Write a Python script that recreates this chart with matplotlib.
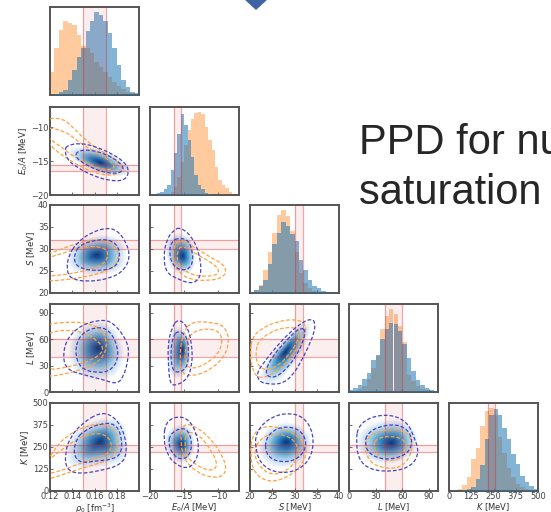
import numpy as np
import matplotlib.pyplot as plt
from matplotlib.patches import PathPatch, Polygon
from matplotlib.path import Path

# ---- parameters -------------------------------------------------------
labels = [r'$\rho_0$ [fm$^{-3}$]', r'$E_0/A$ [MeV]', r'$S$ [MeV]',
          r'$L$ [MeV]', r'$K$ [MeV]']
limits = [(0.12, 0.20), (-20, -7), (20, 40), (0, 100), (0, 500)]
ticks = [[0.12, 0.14, 0.16, 0.18], [-20, -15, -10], [20, 25, 30, 35, 40],
         [0, 30, 60, 90], [0, 125, 250, 375, 500]]
# empirical ranges (red bands)
bands = [(0.15, 0.17), (-16.5, -15.5), (30, 32), (40, 60), (220, 260)]

# histogram bins: first edge, bin width, number of bins
hist_bins = [(0.12, 0.004, 20), (-20, 0.5, 26), (20, 1, 20), (0, 5, 20), (0, 25, 20)]

# 1D marginals (bin heights), prior = orange, posterior = blue
prior_hist = [
    [70, 140, 195, 220, 215, 210, 180, 145, 140, 125, 100, 85, 70, 55, 40, 28, 18, 10, 5, 2],
    [0, 0, 0, 0, 0, 2, 8, 25, 55, 100, 150, 195, 230, 247, 250, 243, 205, 165, 135, 85, 45, 30, 20, 10, 3, 0],
    [3, 10, 25, 70, 125, 185, 240, 255, 235, 190, 125, 60, 30, 15, 6, 2, 0, 0, 0, 0],
    [0, 3, 8, 20, 40, 75, 110, 195, 235, 257, 240, 205, 155, 53, 33, 18, 10, 5, 2, 0],
    [0, 2, 7, 17, 42, 97, 132, 197, 242, 252, 232, 165, 115, 70, 42, 22, 12, 5, 2, 0],
]
post_hist = [
    [0, 3, 8, 15, 45, 75, 115, 140, 190, 220, 248, 240, 220, 185, 140, 90, 45, 23, 10, 5],
    [0, 0, 5, 10, 17, 30, 75, 125, 185, 243, 210, 165, 115, 60, 30, 17, 7, 3, 1, 0, 0, 0, 0, 0, 0, 0],
    [2, 8, 20, 40, 90, 150, 185, 217, 207, 180, 160, 100, 70, 40, 23, 15, 7, 2, 0, 0],
    [5, 13, 23, 40, 60, 100, 115, 165, 195, 215, 210, 190, 150, 105, 65, 38, 22, 13, 7, 3],
    [0, 0, 0, 3, 6, 12, 35, 80, 157, 230, 250, 232, 190, 157, 112, 82, 47, 27, 14, 6],
]

# 2D credible contours, keyed by (row, col)
post_outer = {
    (1, 0): [(0.135, -12.7), (0.147, -12.3), (0.162, -12.9), (0.177, -14.0), (0.189, -15.4), (0.191, -16.9),
             (0.186, -17.9), (0.174, -17.9), (0.159, -17.2), (0.144, -15.9), (0.135, -14.7), (0.1335, -13.4)],
    (2, 0): [(0.144, 31.4), (0.156, 33.6), (0.1695, 34.8), (0.18, 34.4), (0.189, 31.4), (0.192, 28.0),
             (0.186, 25.0), (0.174, 23.3), (0.153, 22.5), (0.138, 23.3), (0.135, 25.4), (0.1365, 28.4)],
    (2, 1): [(-15.6, 35.0), (-13.9, 32.9), (-12.8, 29.1), (-12.45, 24.6), (-13.2, 22.5), (-14.4, 22.25),
             (-16.1, 23.3), (-17.6, 24.6), (-18.05, 28.0), (-17.6, 32.1), (-16.6, 34.2)],
    (3, 0): [(0.165, 82.4), (0.177, 79.3), (0.1905, 56.2), (0.1905, 37.0), (0.186, 16.9), (0.18, 8.9),
             (0.168, 13.9), (0.15, 19.6), (0.135, 25.4), (0.1314, 40.8), (0.135, 60.1), (0.147, 75.5)],
    (3, 1): [(-15.9, 83.2), (-14.6, 75.5), (-13.9, 56.2), (-13.8, 31.2), (-14.6, 13.9), (-16.35, 6.9),
             (-17.1, 10.0), (-17.3, 29.3), (-17.4, 54.3), (-16.8, 73.5)],
    (3, 2): [(34.6, 80), (34.5, 68), (33, 50), (31.5, 35), (29.5, 18), (27, 9), (24, 9), (22, 12),
             (21.5, 22), (23.5, 36), (26, 52), (29, 68), (32, 80), (33.8, 83)],
    (4, 0): [(0.165, 447), (0.1764, 429), (0.186, 350), (0.1896, 218), (0.1836, 147), (0.165, 115),
             (0.1455, 96), (0.1344, 124), (0.1335, 218), (0.1386, 312), (0.1494, 387)],
    (4, 1): [(-17.7, 391), (-16.1, 425), (-14.4, 410), (-13.2, 331), (-12.8, 227), (-13.6, 152),
             (-14.6, 128), (-16.1, 147), (-17.4, 199), (-18.05, 293)],
    (4, 2): [(21.3, 330), (24, 410), (28, 445), (32, 425), (34.3, 330), (34, 200), (31, 115),
             (26, 100), (22.5, 150), (21.2, 240)],
    (4, 3): [(10.5, 367), (23.6, 420), (46.1, 436), (64.8, 395), (73.0, 311), (79.0, 217), (70.4, 142),
             (49.8, 109), (23.6, 120), (10.5, 180), (7.9, 292)],
}
post_inner = {
    (1, 0): [(0.144, -13.5), (0.156, -13.3), (0.171, -14.0), (0.183, -15.2), (0.187, -16.3),
             (0.179, -16.9), (0.165, -16.5), (0.152, -15.5), (0.143, -14.5)],
    (2, 0): [(0.147, 31.0), (0.162, 32.1), (0.174, 32.1), (0.1815, 30.6), (0.183, 28.0), (0.1785, 25.8),
             (0.165, 25.0), (0.15, 25.4), (0.1425, 26.5), (0.1416, 28.8)],
    (2, 1): [(-15.9, 32.5), (-14.4, 32.1), (-13.7, 29.1), (-13.9, 25.8), (-15.4, 25.0), (-16.8, 26.5),
             (-17.2, 29.5), (-16.8, 31.8)],
    (3, 0): [(0.1455, 62.0), (0.156, 72.4), (0.171, 73.5), (0.18, 56.2), (0.1815, 37.0), (0.174, 23.5),
             (0.1605, 21.6), (0.147, 27.3), (0.1425, 44.7)],
    (3, 1): [(-15.9, 69.7), (-14.6, 63.9), (-14.3, 44.7), (-14.6, 27.3), (-15.9, 21.6), (-16.8, 25.4),
             (-17.0, 46.6), (-16.6, 63.9)],
    (3, 2): [(32.5, 70), (32, 58), (30.5, 42), (28.5, 28), (26, 17), (24, 17), (23.5, 25), (25, 40),
             (27.5, 55), (30, 68), (31.5, 73)],
    (4, 0): [(0.15, 340), (0.165, 384), (0.1785, 384), (0.1845, 312), (0.1845, 218), (0.177, 180),
             (0.162, 171), (0.147, 158), (0.141, 209), (0.1434, 293)],
    (4, 1): [(-17.1, 321), (-15.6, 359), (-14.4, 346), (-13.8, 265), (-14.3, 199), (-15.4, 177),
             (-16.6, 203), (-17.3, 265)],
    (4, 2): [(23.5, 300), (26, 360), (30, 365), (32.5, 310), (32.5, 230), (30, 170), (26, 165), (23.5, 210)],
    (4, 3): [(19.8, 320), (31.1, 363), (53.6, 382), (68.5, 339), (71.5, 255), (61.0, 195), (38.6, 176),
             (21.7, 214), (18.0, 273)],
}
prior_outer = {
    (1, 0): [(0.116, -8.6), (0.132, -8.7), (0.141, -10.1), (0.152, -11.9), (0.165, -13.4), (0.179, -14.8),
             (0.186, -16.2), (0.179, -17.1), (0.166, -17.0), (0.152, -16.2), (0.137, -14.8), (0.124, -13.3),
             (0.116, -11.8)],
    (2, 0): [(0.112, 28.4), (0.1305, 30.0), (0.147, 31.5), (0.162, 32.3), (0.1755, 31.4), (0.1824, 29.1),
             (0.18, 26.5), (0.1695, 24.8), (0.153, 23.75), (0.135, 23.0), (0.112, 22.6)],
    (2, 1): [(-15.7, 32.3), (-13.7, 30.6), (-11.5, 28.4), (-9.4, 26.7), (-8.8, 25.0), (-9.5, 23.3),
             (-11.7, 22.8), (-13.9, 23.0), (-15.6, 24.3), (-16.6, 26.9), (-16.6, 30.3)],
    (3, 0): [(0.112, 75.5), (0.129, 79.3), (0.153, 79.3), (0.168, 69.7), (0.1716, 52.4), (0.1665, 37.0),
             (0.153, 27.3), (0.132, 19.6), (0.112, 16.9)],
    (3, 1): [(-13.9, 80.1), (-11.2, 79.3), (-9.3, 76.2), (-8.4, 62.0), (-8.9, 42.7), (-10.75, 27.3),
             (-13.2, 18.5), (-15.4, 19.6), (-15.7, 40.8), (-15.2, 67.8)],
    (3, 2): [(20.5, 62), (22.5, 72), (26, 80), (30, 83), (32.5, 78), (32.5, 65), (30.5, 48), (28, 32),
             (25, 20), (22, 15), (20.5, 25), (20, 45)],
    (4, 0): [(0.112, 105), (0.1245, 246), (0.135, 312), (0.15, 365), (0.168, 387), (0.18, 340),
             (0.1815, 246), (0.174, 180), (0.159, 147), (0.141, 115), (0.1275, 83), (0.112, 58)],
    (4, 1): [(-15.2, 387), (-13.2, 365), (-11.0, 293), (-9.4, 199), (-8.8, 128), (-9.4, 81), (-11.2, 77),
             (-13.2, 109), (-14.9, 171), (-15.6, 274)],
    (4, 2): [(20.5, 320), (23, 370), (27, 360), (31, 310), (33, 230), (31.5, 140), (28, 70), (24, 50),
             (21, 100), (20, 200)],
    (4, 3): [(19.1, 296), (31.1, 339), (57.3, 352), (69.3, 311), (71.5, 245), (65.5, 165), (53.6, 127),
             (34.8, 133), (22.8, 170), (18.0, 236)],
}
prior_inner = {
    (1, 0): [(0.116, -9.9), (0.134, -10.6), (0.146, -12.2), (0.161, -13.7), (0.174, -14.9), (0.179, -15.9),
             (0.171, -16.4), (0.157, -15.7), (0.142, -14.4), (0.130, -12.9), (0.116, -11.3)],
    (2, 0): [(0.112, 27.5), (0.132, 29.1), (0.15, 30.5), (0.165, 30.6), (0.1725, 29.5), (0.171, 27.3),
             (0.162, 25.8), (0.147, 24.8), (0.132, 24.1), (0.112, 23.75)],
    (2, 1): [(-15.4, 31.0), (-13.2, 28.8), (-10.75, 26.7), (-9.8, 25.0), (-10.5, 23.9), (-12.7, 23.75),
             (-14.6, 24.6), (-15.9, 26.5), (-16.1, 29.1)],
    (3, 0): [(0.112, 63.9), (0.129, 70.8), (0.15, 68.5), (0.165, 56.2), (0.1686, 46.6), (0.159, 37.0),
             (0.141, 29.3), (0.112, 23.5)],
    (3, 1): [(-13.7, 69.7), (-10.75, 72.4), (-9.4, 63.9), (-9.7, 46.6), (-11.5, 33.1), (-13.9, 25.4),
             (-15.0, 33.1), (-14.7, 56.2)],
    (3, 2): [(22, 58), (24.5, 68), (28, 74), (31, 72), (31, 60), (29, 44), (26.5, 30), (23.5, 24),
             (21.5, 32), (21.3, 48)],
    (4, 0): [(0.112, 143), (0.129, 227), (0.1455, 303), (0.1635, 335), (0.1746, 297), (0.1755, 227),
             (0.165, 190), (0.147, 158), (0.1305, 115), (0.112, 90)],
    (4, 1): [(-14.6, 340), (-12.9, 321), (-11.5, 256), (-10.3, 177), (-10.3, 128), (-11.5, 115),
             (-13.2, 147), (-14.55, 190), (-15.0, 274)],
    (4, 2): [(22, 290), (25, 330), (29, 310), (31, 250), (30.5, 170), (27.5, 100), (24, 95), (21.5, 160),
             (21, 230)],
    (4, 3): [(30.3, 296), (46.1, 315), (62.9, 292), (65.5, 227), (57.3, 180), (38.6, 170), (30.3, 217),
             (28.1, 264)],
}
# posterior density maximum in each panel
post_peak = {
    (1, 0): (0.165, -15.2), (2, 0): (0.162, 28.6), (2, 1): (-15.25, 28.4),
    (3, 0): (0.1635, 50), (3, 1): (-15.25, 48), (3, 2): (28, 46),
    (4, 0): (0.165, 280), (4, 1): (-15.4, 265), (4, 2): (28.2, 280), (4, 3): (48, 272),
}

# ---- styling ------------------------------------------------------------
prior_c = '#ffa23f'
post_c = '#4444c4'
band_c = '#d62728'
spine_c = '#555555'
text_c = '#444444'

W, H = 551, 512
col_left = [50, 150, 250, 349, 449]
row_top = [7, 107, 205, 304, 403]
pw, ph = 89, 88

fig = plt.figure(figsize=(W / 100, H / 100), dpi=100)


def smooth_path(pts):
    # closed quadratic curve using the read points as control points
    p = np.asarray(pts, float)
    m = (p + np.roll(p, -1, axis=0)) / 2
    verts = [m[-1]]
    codes = [Path.MOVETO]
    for i in range(len(p)):
        verts += [p[i], m[i]]
        codes += [Path.CURVE3, Path.CURVE3]
    return Path(verts, codes)


def style(ax, r, c):
    for s in ax.spines.values():
        s.set_color(spine_c)
        s.set_linewidth(1.4)
    ax.tick_params(direction='in', length=2.5, width=0.6, colors=spine_c,
                   labelcolor=text_c, labelsize=6, pad=1.0)
    ax.set_xlim(limits[c])
    ax.set_xticks(ticks[c])
    if r == 4:
        ax.set_xlabel(labels[c], fontsize=6, color='#333333', labelpad=0)
    else:
        ax.tick_params(labelbottom=False)


n = len(labels)
for r in range(n):
    for c in range(r + 1):
        ax = fig.add_axes([col_left[c] / W, 1 - (row_top[r] + ph) / H, pw / W, ph / H])
        style(ax, r, c)
        lo, hi = bands[c]
        if r == c:
            start, width, nb = hist_bins[c]
            edges = start + width * np.arange(nb + 1)
            centers = (edges[:-1] + edges[1:]) / 2
            ax.hist(centers, bins=edges, weights=prior_hist[c], color='#ff7f0e', alpha=0.4, zorder=2)
            ax.hist(centers, bins=edges, weights=post_hist[c], color='#1f77b4', alpha=0.55, zorder=3)
            top = max(max(prior_hist[c]), max(post_hist[c]))
            ax.set_ylim(0, top * 1.06)
            ax.set_yticks([])
            ax.axvspan(lo, hi, color=band_c, alpha=0.08, lw=0, zorder=4)
            for v in (lo, hi):
                ax.axvline(v, color=band_c, alpha=0.4, lw=0.9, zorder=4)
            ax.set_xlim(limits[c])
            continue

        ax.set_ylim(limits[r])
        ax.set_yticks(ticks[r])
        if c == 0:
            ax.set_ylabel(labels[r], fontsize=6.2, color='#333333', labelpad=1)
        else:
            ax.tick_params(labelleft=False)

        key = (r, c)
        # posterior density shading
        inner = np.asarray(post_inner[key], float)
        peak = np.asarray(post_peak[key], float)
        scales = np.linspace(1.3, 0.06, 26)
        for k, s in enumerate(scales):
            t = k / (len(scales) - 1)
            shape = peak + (inner - peak) * s
            ax.add_patch(PathPatch(smooth_path(shape), fc=plt.cm.Blues(0.02 + 0.93 * t ** 0.95),
                                   ec='none', zorder=1))

        # empirical bands
        blo, bhi = bands[r]
        ax.axvspan(lo, hi, color=band_c, alpha=0.08, lw=0, zorder=2)
        ax.axhspan(blo, bhi, color=band_c, alpha=0.08, lw=0, zorder=2)
        for v in (lo, hi):
            ax.axvline(v, color=band_c, alpha=0.4, lw=0.9, zorder=2)
        for v in (blo, bhi):
            ax.axhline(v, color=band_c, alpha=0.4, lw=0.9, zorder=2)

        # contours
        for pts, col in ((prior_outer[key], prior_c), (prior_inner[key], prior_c),
                         (post_outer[key], post_c), (post_inner[key], post_c)):
            ax.add_patch(PathPatch(smooth_path(pts), fill=False, ec=col, lw=0.9,
                                   ls=(0, (3, 1.6)), zorder=3))
        ax.set_xlim(limits[c])
        ax.set_ylim(limits[r])

# slide decorations
fig.text(359 / W, 1 - 154 / H, 'PPD for nuclear', fontsize=30, family='Liberation Sans',
         color='#262626', va='baseline', ha='left')
fig.text(359 / W, 1 - 204 / H, 'saturation properties', fontsize=30, family='Liberation Sans',
         color='#262626', va='baseline', ha='left')
fig.patches.append(Polygon([(244 / W, 1 + 1 / H), (256 / W, 1 - 10 / H), (268 / W, 1 + 1 / H),
                            (256 / W, 1 + 13 / H)], closed=True, transform=fig.transFigure,
                           fc='#3f64a6', ec='none'))

fig.savefig('out.png', dpi=100)
